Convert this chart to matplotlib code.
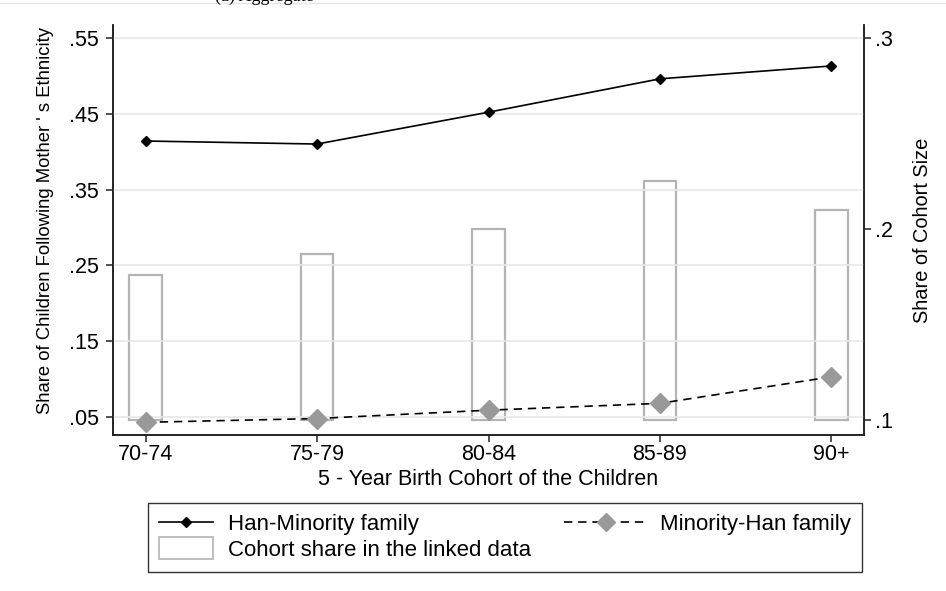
import numpy as np
import matplotlib
matplotlib.use("Agg")
import matplotlib.pyplot as plt
from matplotlib.lines import Line2D
from matplotlib.patches import Patch, Rectangle
from matplotlib.legend_handler import HandlerPatch, HandlerLine2D
from matplotlib.ticker import FuncFormatter

plt.rcParams['font.family'] = ['Liberation Sans', 'DejaVu Sans']

cohorts = ["70-74", "75-79", "80-84", "85-89", "90+"]
han_minority = [0.414, 0.410, 0.452, 0.496, 0.513]
minority_han = [0.043, 0.048, 0.059, 0.068, 0.103]
cohort_share = [0.176, 0.187, 0.200, 0.225, 0.210]
share_base = 0.1

left_ticks = [0.05, 0.15, 0.25, 0.35, 0.45, 0.55]
right_ticks = [0.1, 0.2, 0.3]


def strip_zero(v, _pos=None):
    s = f"{v:.2f}".rstrip("0")
    return s[1:] if s.startswith("0") else s


def tall_box(legend, orig_handle, xdescent, ydescent, width, height, fontsize):
    # key box for the bar entry
    return Rectangle((-xdescent, -ydescent - 0.2 * height), width,
                     height * 1.4)


class WideLineHandler(HandlerLine2D):
    """Line key that reaches further to the left than the default box."""

    def __init__(self, extra_left=19.4, extra_right=3.6, **kw):
        super().__init__(**kw)
        self.extra_left = extra_left
        self.extra_right = extra_right

    def create_artists(self, legend, orig_handle, xdescent, ydescent,
                       width, height, fontsize, trans):
        return super().create_artists(
            legend, orig_handle, xdescent + self.extra_left, ydescent,
            width + self.extra_left + self.extra_right, height, fontsize, trans)


fig = plt.figure(figsize=(9.46, 5.91), dpi=100)
ax = fig.add_axes([0.1195, 0.264, 0.7938, 0.6937])
ax2 = ax.twinx()

x = np.arange(len(cohorts))

# cohort size bars on the right axis
ax2.bar(x, np.array(cohort_share) - share_base, bottom=share_base, width=0.19,
        facecolor="none", edgecolor="#b4b4b4", linewidth=1.6, zorder=2)

# ethnicity shares on the left axis
ax.plot(x, han_minority, color="black", linewidth=1.2, marker="D",
        markersize=5.5, markerfacecolor="black", markeredgecolor="black", zorder=4)
ax.plot(x, minority_han, color="black", linewidth=1.2, linestyle=(0, (5, 3.5)),
        marker="D", markersize=10, markerfacecolor="#999999",
        markeredgecolor="#999999", zorder=4)

ax.set_zorder(ax2.get_zorder() + 1)
ax.patch.set_visible(False)

ax.set_xlim(-0.19, 4.19)
ax.set_ylim(0.0263, 0.567)
ax2.set_ylim(0.0921, 0.3068)

ax.set_yticks(left_ticks)
ax.yaxis.set_major_formatter(FuncFormatter(strip_zero))
ax2.set_yticks(right_ticks)
ax2.yaxis.set_major_formatter(FuncFormatter(strip_zero))
ax.set_xticks(x)
ax.set_xticklabels(cohorts)

ax.grid(axis="y", color="#e8e8e8", linewidth=1.2, zorder=0)
ax.set_axisbelow(True)

for a in (ax, ax2):
    a.spines["top"].set_visible(False)
    for s in ("left", "right", "bottom"):
        a.spines[s].set_linewidth(1.2)
        a.spines[s].set_color("#222222")
    a.tick_params(direction="out", length=5, width=1.1, labelsize=15.5,
                  colors="#222222", labelcolor="black", pad=3)
ax.tick_params(axis="y", pad=5)
ax.tick_params(axis="x", pad=1.5)

ax.set_ylabel("Share of Children Following Mother ' s Ethnicity", fontsize=13.3)
ax.yaxis.set_label_coords(-0.078, 0.524)
ax2.set_ylabel("Share of Cohort Size", fontsize=14.4, labelpad=14)
ax.set_xlabel("5 - Year Birth Cohort of the Children", fontsize=15.5, labelpad=3)

handles = [
    Line2D([], [], color="black", linewidth=1.2, marker="D", markersize=5.5),
    Patch(facecolor="none", edgecolor="#b4b4b4", linewidth=1.2),
    Line2D([], [], color="black", linewidth=1.2, linestyle=(0, (5, 3.5)),
           marker="D", markersize=9, markerfacecolor="#999999",
           markeredgecolor="#999999"),
]
labels = ["Han-Minority family", "Cohort share in the linked data",
          "Minority-Han family"]
leg = fig.legend(handles, labels, ncol=2, loc="upper left",
                 bbox_to_anchor=(148 / 946, 1 - 503 / 591), fontsize=16,
                 frameon=True, fancybox=False, edgecolor="black",
                 handlelength=2.43, handletextpad=0.68, columnspacing=2.66,
                 borderpad=0.5, labelspacing=0.2, borderaxespad=0,
                 handler_map={Patch: HandlerPatch(patch_func=tall_box),
                              handles[2]: WideLineHandler()})
leg.get_frame().set_linewidth(1.0)

# panel heading, cut off at the top edge
fig.text(215 / 946, 1 - 0.5 / 591, "(a) Aggregate", fontsize=13,
         family=["Liberation Serif", "DejaVu Serif"], va="baseline", ha="left")
fig.add_artist(Line2D([0, 1], [1 - 3 / 591, 1 - 3 / 591], color="#e6e6e6",
                      linewidth=1.0, transform=fig.transFigure))

fig.savefig("out.png", dpi=100, facecolor="white")
